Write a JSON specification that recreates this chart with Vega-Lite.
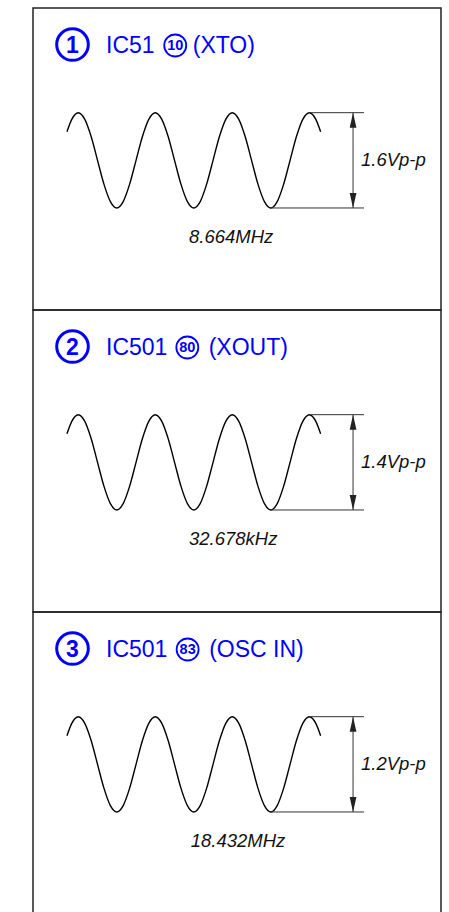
{
  "$schema": "https://vega.github.io/schema/vega-lite/v6.json",
  "padding": {"left": 32, "top": 7, "right": 0, "bottom": 0},
  "autosize": {"type": "pad"},
  "bounds": "flush",
  "background": "white",
  "spacing": 0,
  "config": {
    "view": {"stroke": "#222", "strokeWidth": 1.5},
    "concat": {"spacing": 0},
    "font": "Liberation Sans"
  },
  "datasets": {
    "wave": [
      {"t": -0.147, "v": 0.6}, {"t": -0.083, "v": 0.866},
      {"t": 0, "v": 1}, {"t": 0.083, "v": 0.866}, {"t": 0.167, "v": 0.5}, {"t": 0.25, "v": 0}, {"t": 0.333, "v": -0.5}, {"t": 0.417, "v": -0.866},
      {"t": 0.5, "v": -1}, {"t": 0.583, "v": -0.866}, {"t": 0.667, "v": -0.5}, {"t": 0.75, "v": 0}, {"t": 0.833, "v": 0.5}, {"t": 0.917, "v": 0.866},
      {"t": 1, "v": 1}, {"t": 1.083, "v": 0.866}, {"t": 1.167, "v": 0.5}, {"t": 1.25, "v": 0}, {"t": 1.333, "v": -0.5}, {"t": 1.417, "v": -0.866},
      {"t": 1.5, "v": -1}, {"t": 1.583, "v": -0.866}, {"t": 1.667, "v": -0.5}, {"t": 1.75, "v": 0}, {"t": 1.833, "v": 0.5}, {"t": 1.917, "v": 0.866},
      {"t": 2, "v": 1}, {"t": 2.083, "v": 0.866}, {"t": 2.167, "v": 0.5}, {"t": 2.25, "v": 0}, {"t": 2.333, "v": -0.5}, {"t": 2.417, "v": -0.866},
      {"t": 2.5, "v": -1}, {"t": 2.583, "v": -0.866}, {"t": 2.667, "v": -0.5}, {"t": 2.75, "v": 0}, {"t": 2.833, "v": 0.5}, {"t": 2.917, "v": 0.866},
      {"t": 3, "v": 1}, {"t": 3.083, "v": 0.866}, {"t": 3.147, "v": 0.6}
    ],
    "dims": [
      {"t": 3.0, "t2": 3.71, "v": 1, "v2": 1},
      {"t": 2.5, "t2": 3.71, "v": -1, "v2": -1},
      {"t": 3.568, "t2": 3.568, "v": 1, "v2": -1}
    ],
    "arrows": [
      {"t": 3.568, "v": 0.843, "dir": "up"},
      {"t": 3.568, "v": -0.843, "dir": "down"}
    ],
    "p1": [
      {"kind": "big", "t": -0.075, "v": 2.43, "label": "1"},
      {"kind": "title", "t": 0.36, "v": 2.43, "label": "IC51"},
      {"kind": "small", "t": 1.259, "v": 2.41, "label": "10"},
      {"kind": "title", "t": 1.486, "v": 2.43, "label": "(XTO)"},
      {"kind": "vpp", "t": 3.671, "v": 0, "label": "1.6Vp-p"},
      {"kind": "freq", "t": 1.438, "v": -1.61, "label": "8.664MHz"}
    ],
    "p2": [
      {"kind": "big", "t": -0.075, "v": 2.43, "label": "2"},
      {"kind": "title", "t": 0.36, "v": 2.43, "label": "IC501"},
      {"kind": "small", "t": 1.416, "v": 2.41, "label": "80"},
      {"kind": "title", "t": 1.693, "v": 2.43, "label": "(XOUT)"},
      {"kind": "vpp", "t": 3.671, "v": 0, "label": "1.4Vp-p"},
      {"kind": "freq", "t": 1.438, "v": -1.61, "label": "32.678kHz"}
    ],
    "p3": [
      {"kind": "big", "t": -0.075, "v": 2.43, "label": "3"},
      {"kind": "title", "t": 0.36, "v": 2.43, "label": "IC501"},
      {"kind": "small", "t": 1.42, "v": 2.41, "label": "83"},
      {"kind": "title", "t": 1.70, "v": 2.43, "label": "(OSC IN)"},
      {"kind": "vpp", "t": 3.671, "v": 0, "label": "1.2Vp-p"},
      {"kind": "freq", "t": 1.46, "v": -1.61, "label": "18.432MHz"}
    ]
  },
  "vconcat": [
    {
      "width": 408, "height": 302,
      "encoding": {
        "x": {"field": "t", "type": "quantitative", "scale": {"domain": [-0.588, 4.71], "nice": false, "zero": false}, "axis": null},
        "y": {"field": "v", "type": "quantitative", "scale": {"domain": [-3.141, 3.197], "nice": false, "zero": false}, "axis": null}
      },
      "layer": [
        {"data": {"name": "wave"}, "mark": {"type": "line", "interpolate": "monotone", "stroke": "#000", "strokeWidth": 1.4}},
        {"data": {"name": "dims"}, "mark": {"type": "rule", "stroke": "#333", "strokeWidth": 1}, "encoding": {"x2": {"field": "t2"}, "y2": {"field": "v2"}}},
        {"data": {"name": "arrows"}, "mark": {"type": "point", "filled": true, "color": "#222", "opacity": 1, "size": 225, "strokeWidth": 0},
         "encoding": {"shape": {"field": "dir", "type": "nominal", "scale": {"domain": ["up", "down"], "range": ["M-0.45,1L0,-1L0.45,1Z", "M-0.45,-1L0,1L0.45,-1Z"]}, "legend": null}}},
        {"data": {"name": "p1"}, "transform": [{"filter": "datum.kind == 'big'"}], "mark": {"type": "point", "shape": "circle", "filled": false, "stroke": "#0000ff", "strokeWidth": 3, "size": 1000, "opacity": 1}},
        {"data": {"name": "p1"}, "transform": [{"filter": "datum.kind == 'big'"}], "mark": {"type": "text", "fontSize": 23, "fontWeight": "bold", "color": "#0000ff", "align": "center", "baseline": "middle", "dy": 1}, "encoding": {"text": {"field": "label"}}},
        {"data": {"name": "p1"}, "transform": [{"filter": "datum.kind == 'small'"}], "mark": {"type": "point", "shape": "circle", "filled": false, "stroke": "#0000ff", "strokeWidth": 1.8, "size": 484, "opacity": 1}},
        {"data": {"name": "p1"}, "transform": [{"filter": "datum.kind == 'small'"}], "mark": {"type": "text", "fontSize": 14.5, "fontWeight": "bold", "color": "#0000ff", "align": "center", "baseline": "middle", "dy": 1, "letterSpacing": -1.2}, "encoding": {"text": {"field": "label"}}},
        {"data": {"name": "p1"}, "transform": [{"filter": "datum.kind == 'title'"}], "mark": {"type": "text", "fontSize": 23, "color": "#0000ff", "align": "left", "baseline": "middle", "dy": 1}, "encoding": {"text": {"field": "label"}}},
        {"data": {"name": "p1"}, "transform": [{"filter": "datum.kind == 'vpp' || datum.kind == 'freq'"}], "mark": {"type": "text", "fontSize": 18.5, "fontStyle": "italic", "color": "#111", "align": "left", "baseline": "middle"}, "encoding": {"text": {"field": "label"}}}
      ]
    },
    {
      "width": 408, "height": 302,
      "encoding": {
        "x": {"field": "t", "type": "quantitative", "scale": {"domain": [-0.588, 4.71], "nice": false, "zero": false}, "axis": null},
        "y": {"field": "v", "type": "quantitative", "scale": {"domain": [-3.141, 3.197], "nice": false, "zero": false}, "axis": null}
      },
      "layer": [
        {"data": {"name": "wave"}, "mark": {"type": "line", "interpolate": "monotone", "stroke": "#000", "strokeWidth": 1.4}},
        {"data": {"name": "dims"}, "mark": {"type": "rule", "stroke": "#333", "strokeWidth": 1}, "encoding": {"x2": {"field": "t2"}, "y2": {"field": "v2"}}},
        {"data": {"name": "arrows"}, "mark": {"type": "point", "filled": true, "color": "#222", "opacity": 1, "size": 225, "strokeWidth": 0},
         "encoding": {"shape": {"field": "dir", "type": "nominal", "scale": {"domain": ["up", "down"], "range": ["M-0.45,1L0,-1L0.45,1Z", "M-0.45,-1L0,1L0.45,-1Z"]}, "legend": null}}},
        {"data": {"name": "p2"}, "transform": [{"filter": "datum.kind == 'big'"}], "mark": {"type": "point", "shape": "circle", "filled": false, "stroke": "#0000ff", "strokeWidth": 3, "size": 1000, "opacity": 1}},
        {"data": {"name": "p2"}, "transform": [{"filter": "datum.kind == 'big'"}], "mark": {"type": "text", "fontSize": 23, "fontWeight": "bold", "color": "#0000ff", "align": "center", "baseline": "middle", "dy": 1}, "encoding": {"text": {"field": "label"}}},
        {"data": {"name": "p2"}, "transform": [{"filter": "datum.kind == 'small'"}], "mark": {"type": "point", "shape": "circle", "filled": false, "stroke": "#0000ff", "strokeWidth": 1.8, "size": 484, "opacity": 1}},
        {"data": {"name": "p2"}, "transform": [{"filter": "datum.kind == 'small'"}], "mark": {"type": "text", "fontSize": 14.5, "fontWeight": "bold", "color": "#0000ff", "align": "center", "baseline": "middle", "dy": 1, "letterSpacing": -1.2}, "encoding": {"text": {"field": "label"}}},
        {"data": {"name": "p2"}, "transform": [{"filter": "datum.kind == 'title'"}], "mark": {"type": "text", "fontSize": 23, "color": "#0000ff", "align": "left", "baseline": "middle", "dy": 1}, "encoding": {"text": {"field": "label"}}},
        {"data": {"name": "p2"}, "transform": [{"filter": "datum.kind == 'vpp' || datum.kind == 'freq'"}], "mark": {"type": "text", "fontSize": 18.5, "fontStyle": "italic", "color": "#111", "align": "left", "baseline": "middle"}, "encoding": {"text": {"field": "label"}}}
      ]
    },
    {
      "width": 408, "height": 302,
      "encoding": {
        "x": {"field": "t", "type": "quantitative", "scale": {"domain": [-0.588, 4.71], "nice": false, "zero": false}, "axis": null},
        "y": {"field": "v", "type": "quantitative", "scale": {"domain": [-3.141, 3.197], "nice": false, "zero": false}, "axis": null}
      },
      "layer": [
        {"data": {"name": "wave"}, "mark": {"type": "line", "interpolate": "monotone", "stroke": "#000", "strokeWidth": 1.4}},
        {"data": {"name": "dims"}, "mark": {"type": "rule", "stroke": "#333", "strokeWidth": 1}, "encoding": {"x2": {"field": "t2"}, "y2": {"field": "v2"}}},
        {"data": {"name": "arrows"}, "mark": {"type": "point", "filled": true, "color": "#222", "opacity": 1, "size": 225, "strokeWidth": 0},
         "encoding": {"shape": {"field": "dir", "type": "nominal", "scale": {"domain": ["up", "down"], "range": ["M-0.45,1L0,-1L0.45,1Z", "M-0.45,-1L0,1L0.45,-1Z"]}, "legend": null}}},
        {"data": {"name": "p3"}, "transform": [{"filter": "datum.kind == 'big'"}], "mark": {"type": "point", "shape": "circle", "filled": false, "stroke": "#0000ff", "strokeWidth": 3, "size": 1000, "opacity": 1}},
        {"data": {"name": "p3"}, "transform": [{"filter": "datum.kind == 'big'"}], "mark": {"type": "text", "fontSize": 23, "fontWeight": "bold", "color": "#0000ff", "align": "center", "baseline": "middle", "dy": 1}, "encoding": {"text": {"field": "label"}}},
        {"data": {"name": "p3"}, "transform": [{"filter": "datum.kind == 'small'"}], "mark": {"type": "point", "shape": "circle", "filled": false, "stroke": "#0000ff", "strokeWidth": 1.8, "size": 484, "opacity": 1}},
        {"data": {"name": "p3"}, "transform": [{"filter": "datum.kind == 'small'"}], "mark": {"type": "text", "fontSize": 14.5, "fontWeight": "bold", "color": "#0000ff", "align": "center", "baseline": "middle", "dy": 1, "letterSpacing": -1.2}, "encoding": {"text": {"field": "label"}}},
        {"data": {"name": "p3"}, "transform": [{"filter": "datum.kind == 'title'"}], "mark": {"type": "text", "fontSize": 23, "color": "#0000ff", "align": "left", "baseline": "middle", "dy": 1}, "encoding": {"text": {"field": "label"}}},
        {"data": {"name": "p3"}, "transform": [{"filter": "datum.kind == 'vpp' || datum.kind == 'freq'"}], "mark": {"type": "text", "fontSize": 18.5, "fontStyle": "italic", "color": "#111", "align": "left", "baseline": "middle"}, "encoding": {"text": {"field": "label"}}}
      ]
    }
  ]
}
